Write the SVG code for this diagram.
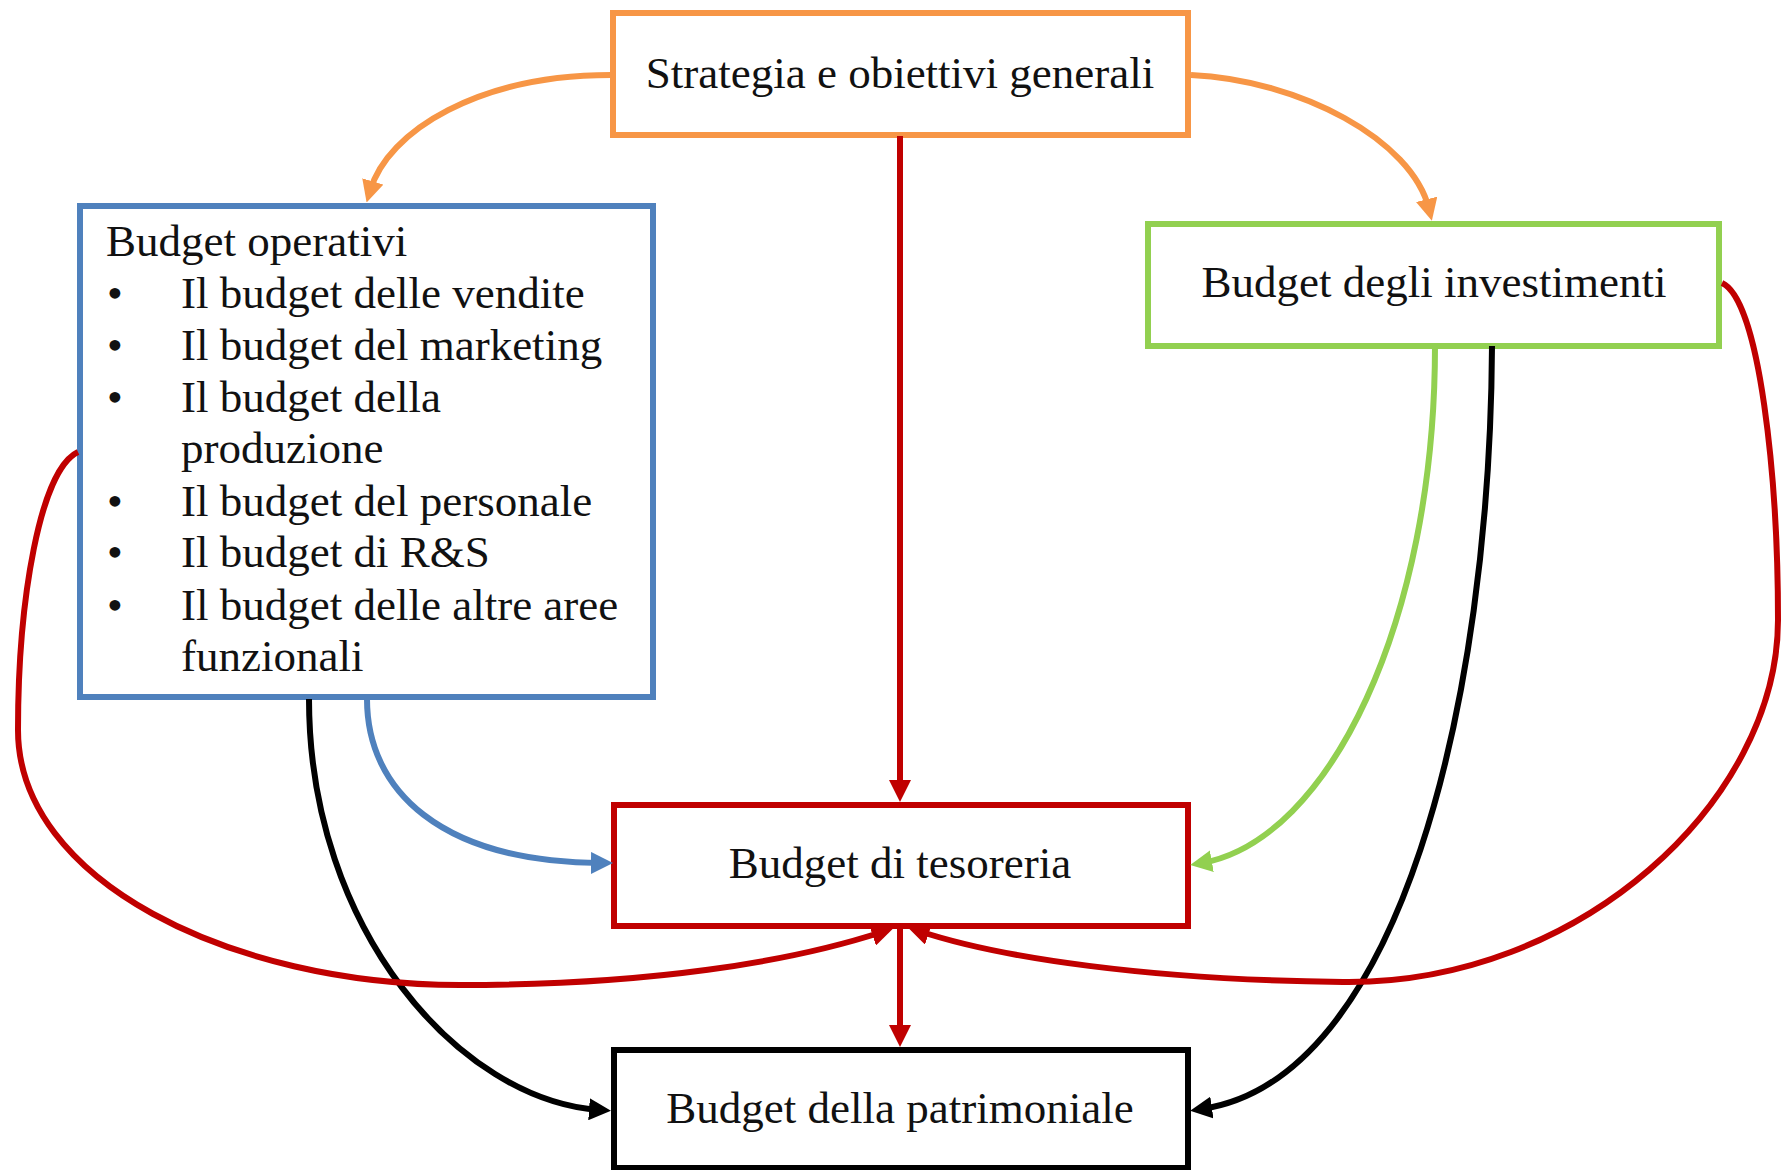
<svg xmlns="http://www.w3.org/2000/svg" width="1790" height="1170" viewBox="0 0 1790 1170">
<style>
  .box { fill: #ffffff; stroke-width: 6; }
  .t { font-family: "Liberation Serif", "Times New Roman", serif; font-size: 45px; fill: #111111; }
  .c { text-anchor: middle; }
  .ln { fill: none; stroke-width: 6; }
</style>
<defs>
  <marker id="aOrange" markerUnits="userSpaceOnUse" viewBox="0 0 22 22" markerWidth="22" markerHeight="22" refX="10" refY="11" orient="auto"><path d="M0,0 L22,11 L0,22 z" fill="#F79646"/></marker>
  <marker id="aRed" markerUnits="userSpaceOnUse" viewBox="0 0 22 22" markerWidth="22" markerHeight="22" refX="10" refY="11" orient="auto"><path d="M0,0 L22,11 L0,22 z" fill="#C00000"/></marker>
  <marker id="aGreen" markerUnits="userSpaceOnUse" viewBox="0 0 22 22" markerWidth="22" markerHeight="22" refX="10" refY="11" orient="auto"><path d="M0,0 L22,11 L0,22 z" fill="#92D050"/></marker>
  <marker id="aBlue" markerUnits="userSpaceOnUse" viewBox="0 0 22 22" markerWidth="22" markerHeight="22" refX="10" refY="11" orient="auto"><path d="M0,0 L22,11 L0,22 z" fill="#4F81BD"/></marker>
  <marker id="aBlack" markerUnits="userSpaceOnUse" viewBox="0 0 22 22" markerWidth="22" markerHeight="22" refX="10" refY="11" orient="auto"><path d="M0,0 L22,11 L0,22 z" fill="#000000"/></marker>
</defs>
<rect width="1790" height="1170" fill="#ffffff"/>

<g id="strategia">
  <rect class="box" x="613" y="13" width="575" height="122" stroke="#F79646"/>
  <text class="t c" x="900" y="88">Strategia e obiettivi generali</text>
</g>
<g id="operativi">
  <rect class="box" x="80" y="206" width="573" height="491" stroke="#4F81BD"/>
  <text class="t" x="106" y="256">Budget operativi</text>
  <text class="t" x="107" y="308">•</text><text class="t" x="181" y="308">Il budget delle vendite</text>
  <text class="t" x="107" y="360">•</text><text class="t" x="181" y="360">Il budget del marketing</text>
  <text class="t" x="107" y="412">•</text><text class="t" x="181" y="412">Il budget della</text>
  <text class="t" x="181" y="463">produzione</text>
  <text class="t" x="107" y="516">•</text><text class="t" x="181" y="516">Il budget del personale</text>
  <text class="t" x="107" y="567">•</text><text class="t" x="181" y="567">Il budget di R&amp;S</text>
  <text class="t" x="107" y="620">•</text><text class="t" x="181" y="620">Il budget delle altre aree</text>
  <text class="t" x="181" y="671">funzionali</text>
</g>
<g id="investimenti">
  <rect class="box" x="1148" y="224" width="571" height="122" stroke="#92D050"/>
  <text class="t c" x="1434" y="297">Budget degli investimenti</text>
</g>
<g id="tesoreria">
  <rect class="box" x="614" y="805" width="574" height="121" stroke="#C00000"/>
  <text class="t c" x="900" y="878">Budget di tesoreria</text>
</g>
<g id="patrimoniale">
  <rect class="box" x="614" y="1050" width="574" height="118" stroke="#000000"/>
  <text class="t c" x="900" y="1123">Budget della patrimoniale</text>
</g>

<g id="connectors">
  <path class="ln" stroke="#F79646" d="M611,75 C480,75 388,130 370,191" marker-end="url(#aOrange)"/>
  <path class="ln" stroke="#F79646" d="M1191,75 C1300,80 1412,140 1429,209" marker-end="url(#aOrange)"/>
  <path class="ln" stroke="#C00000" d="M900,136 L900,790" marker-end="url(#aRed)"/>
  <path class="ln" stroke="#92D050" d="M1435,346 C1435,620 1330,840 1202,863" marker-end="url(#aGreen)"/>
  <path class="ln" stroke="#000000" d="M1492,346 C1490,700 1400,1080 1202,1109" marker-end="url(#aBlack)"/>
  <path class="ln" stroke="#4F81BD" d="M367,699 C367,790 440,862 601,863" marker-end="url(#aBlue)"/>
  <path class="ln" stroke="#000000" d="M309,699 C309,930 460,1100 599,1110" marker-end="url(#aBlack)"/>
  <path class="ln" stroke="#C00000" d="M78,452 C40,470 18,600 18,730 C18,880 230,985 460,985 C650,985 790,962 882,932" marker-end="url(#aRed)"/>
  <path class="ln" stroke="#C00000" d="M1722,283 C1760,300 1778,480 1778,620 C1778,800 1580,985 1343,982 C1150,980 1000,958 919,931" marker-end="url(#aRed)"/>
  <path class="ln" stroke="#C00000" d="M900,929 L900,1035" marker-end="url(#aRed)"/>
</g>
</svg>
